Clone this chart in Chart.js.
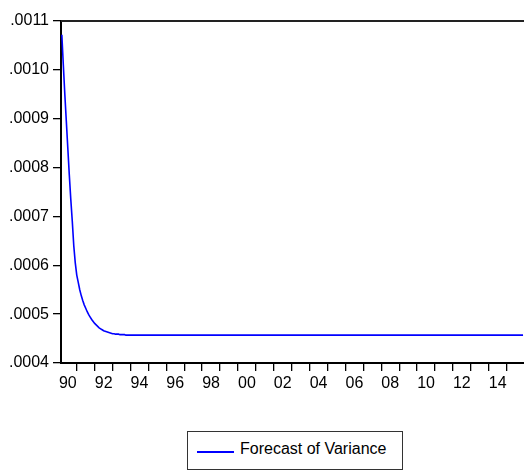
<!DOCTYPE html>
<html>
<head>
<meta charset="utf-8">
<script src="https://cdn.jsdelivr.net/npm/chart.js@4"></script>
<style>
  html, body { margin: 0; padding: 0; background: #fff; }
  #wrap { position: relative; width: 524px; height: 470px; }
  #c { position: absolute; left: 0; top: 0; }
  #legend { position: absolute; left: 187px; top: 431px; width: 214px; height: 37px;
            border: 1px solid #333; box-sizing: content-box; background: #fff;
            font-family: 'Liberation Sans', Arial, sans-serif; font-size: 16px; color: #000; }
  #legend .ln { position: absolute; left: 9px; top: 19px; width: 37px; height: 2px; background: #0000ff; }
  #legend .tx { position: absolute; left: 52px; top: 8px; line-height: 18px; white-space: nowrap; }
</style>
</head>
<body>
<div id="wrap">
  <canvas id="c" width="524" height="470"></canvas>
  <div id="legend"><div class="ln"></div><div class="tx">Forecast of Variance</div></div>
</div>
<script>
// ---- data ----
const seriesName = 'Forecast of Variance';
const headStart = '1990M03';            // first monthly observation
const headValues = [                    // monthly forecast of variance
  0.001072, 0.001010, 0.000950, 0.000895, 0.000840, 0.000785, 0.000735, 0.000690,
  0.000640, 0.000605, 0.000580, 0.000565, 0.000550, 0.000538, 0.000528, 0.000519,
  0.000512, 0.000505, 0.000499, 0.000494, 0.000489, 0.000485, 0.000481, 0.000478,
  0.000475, 0.000472, 0.000470, 0.000468, 0.000466, 0.000465, 0.000464, 0.000463,
  0.000462, 0.000461, 0.000460, 0.000460, 0.000459, 0.000459, 0.000459, 0.000458,
  0.000458, 0.000458, 0.000458, 0.000457, 0.000457
];
const tailPeriods = ['1995M01', '2000M01', '2005M01', '2010M01', '2015M12'];
const tailValues  = [0.000457, 0.000457, 0.000457, 0.000457, 0.000457];
const yTicks = [0.0004, 0.0005, 0.0006, 0.0007, 0.0008, 0.0009, 0.0010, 0.0011];
const xLabelYears = [1990, 1992, 1994, 1996, 1998, 2000, 2002, 2004, 2006, 2008, 2010, 2012, 2014];
const xTickYears = [];
for (let y = 1991; y <= 2015; y++) xTickYears.push(y);

// ---- build points ----
function periodToYear(p) {
  const [y, m] = p.split('M').map(Number);
  return y + (m - 1) / 12;
}
const startYear = periodToYear(headStart);
const points = headValues.map((v, i) => ({ x: startYear + i / 12, y: v }));
tailPeriods.forEach((p, i) => points.push({ x: periodToYear(p), y: tailValues[i] }));

const FONT = { family: "'Liberation Sans', Arial, sans-serif", size: 16 };

const frame = {
  id: 'frame',
  afterDraw(chart) {
    const { ctx, chartArea: a } = chart;
    ctx.save();
    ctx.strokeStyle = '#222';
    ctx.lineWidth = 2;
    ctx.beginPath();
    ctx.moveTo(a.left, a.top);
    ctx.lineTo(chart.width, a.top);
    ctx.stroke();
    ctx.restore();
  }
};

new Chart(document.getElementById('c'), {
  type: 'line',
  data: {
    datasets: [{
      label: seriesName,
      data: points,
      borderColor: '#0000ff',
      borderWidth: 1.6,
      pointRadius: 0,
      tension: 0,
      fill: false
    }]
  },
  options: {
    responsive: false,
    animation: false,
    events: [],
    layout: { padding: { top: 21, right: 0, left: 0, bottom: 0 } },
    plugins: { legend: { display: false }, tooltip: { enabled: false } },
    scales: {
      x: {
        type: 'linear',
        min: 1990.12,
        max: 2015.97,
        afterFit(s) { s.height = 107; },
        afterBuildTicks(s) {
          const t = [];
          xTickYears.forEach(y => t.push({ value: y }));
          xLabelYears.forEach(y => t.push({ value: y + 0.5 }));
          t.sort((a, b) => a.value - b.value);
          s.ticks = t;
        },
        border: { display: true, color: '#000', width: 2 },
        grid: {
          drawOnChartArea: false,
          drawTicks: true,
          tickLength: 8,
          lineWidth: 1.3,
          color: ctx => (ctx.tick && Number.isInteger(ctx.tick.value)) ? '#000' : 'rgba(0,0,0,0)'
        },
        ticks: {
          autoSkip: false,
          maxRotation: 0,
          padding: 3,
          color: '#000',
          font: FONT,
          callback: v => Number.isInteger(v) ? '' : String(Math.floor(v) % 100).padStart(2, '0')
        }
      },
      y: {
        min: 0.0004,
        max: 0.0011,
        afterFit(s) { s.width = 61; },
        afterBuildTicks(s) { s.ticks = yTicks.map(v => ({ value: v })); },
        border: { display: true, color: '#000', width: 2 },
        grid: { drawOnChartArea: false, drawTicks: true, tickLength: 8, color: '#000', lineWidth: 1.3 },
        ticks: {
          padding: 4,
          color: '#000',
          font: FONT,
          callback: v => v.toFixed(4).replace(/^0/, '')
        }
      }
    }
  },
  plugins: [frame]
});
</script>
</body>
</html>
